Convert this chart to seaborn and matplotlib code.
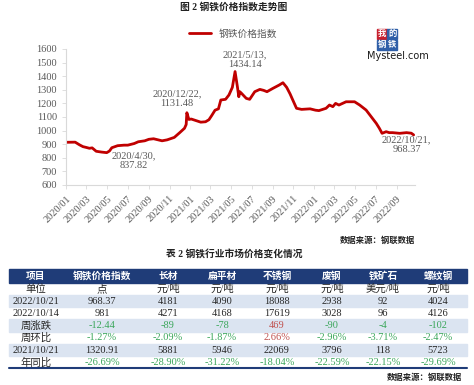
import pandas as pd
import matplotlib.pyplot as plt
import matplotlib.dates as mdates
from matplotlib.patches import Rectangle
import seaborn as sns

# line chart data
dates = ['2020-01-02', '2020-01-28', '2020-02-10', '2020-02-20', '2020-03-01', '2020-03-10',
         '2020-03-18', '2020-03-30', '2020-04-15', '2020-04-30', '2020-05-08', '2020-05-15',
         '2020-06-01', '2020-06-20', '2020-07-01', '2020-07-20', '2020-08-01', '2020-08-20',
         '2020-09-01', '2020-09-15', '2020-10-10', '2020-10-25', '2020-11-01', '2020-11-15',
         '2020-12-01', '2020-12-15', '2020-12-20', '2020-12-22', '2020-12-28', '2021-01-04',
         '2021-01-15', '2021-02-01', '2021-02-15', '2021-02-25', '2021-03-05', '2021-03-15',
         '2021-03-25', '2021-04-01', '2021-04-15', '2021-04-25', '2021-05-05', '2021-05-13',
         '2021-05-20', '2021-05-24', '2021-05-27', '2021-06-01', '2021-06-15', '2021-06-25',
         '2021-07-10', '2021-07-25', '2021-08-05', '2021-08-15', '2021-09-01', '2021-09-20',
         '2021-10-01', '2021-10-12', '2021-10-22', '2021-10-30', '2021-11-10', '2021-11-25',
         '2021-12-20', '2022-01-05', '2022-01-15', '2022-02-05', '2022-02-15', '2022-02-25',
         '2022-03-05', '2022-03-15', '2022-04-05', '2022-04-30', '2022-05-15', '2022-06-03',
         '2022-06-18', '2022-07-03', '2022-07-12', '2022-07-20', '2022-08-01', '2022-08-10',
         '2022-08-20', '2022-09-10', '2022-09-30', '2022-10-14', '2022-10-21']
index_vals = [914, 915, 895, 882, 876, 870, 873, 848, 842, 837.82, 850, 874,
              889, 893, 893, 905, 918, 925, 936, 940, 925, 932, 938, 950,
              985, 1017, 1045, 1131.48, 1082, 1085, 1076, 1062, 1065, 1080, 1110, 1150,
              1160, 1225, 1230, 1262, 1318, 1434.14, 1320, 1249, 1286, 1274, 1237, 1230,
              1286, 1303, 1296, 1286, 1310, 1335, 1352, 1318, 1270, 1225, 1164, 1156,
              1160, 1150, 1147, 1164, 1188, 1176, 1200, 1188, 1212, 1212, 1188, 1151,
              1102, 1053, 1017, 980, 992, 985, 985, 980, 985, 981, 968.37]

# annotated points: (date, value, label, offset in px)
notes = [('2020-04-30', 837.82, '2020/4/30,\n837.82', (27, -8)),
         ('2020-12-22', 1131.48, '2020/12/22,\n1131.48', (-10, 14)),
         ('2021-05-13', 1434.14, '2021/5/13,\n1434.14', (10, 12)),
         ('2022-10-21', 968.37, '2022/10/21,\n968.37', (-7, -10))]

# table data
header = ['项目', '钢铁价格指数', '长材', '扁平材', '不锈钢', '废钢', '铁矿石', '螺纹钢']
units = ['单位', '点', '元/吨', '元/吨', '元/吨', '元/吨', '美元/吨', '元/吨']
row_now = ['2022/10/21', '968.37', '4181', '4090', '18088', '2938', '92', '4024']
row_lastwk = ['2022/10/14', '981', '4271', '4168', '17619', '3028', '96', '4126']
wk_chg = ['周涨跌', '-12.44', '-89', '-78', '469', '-90', '-4', '-102']
wk_pct = ['周环比', '-1.27%', '-2.09%', '-1.87%', '2.66%', '-2.96%', '-3.71%', '-2.47%']
row_lastyr = ['2021/10/21', '1320.91', '5881', '5946', '22069', '3796', '118', '5723']
yr_pct = ['年同比', '-26.69%', '-28.90%', '-31.22%', '-18.04%', '-22.59%', '-22.15%', '-29.69%']
table_rows = [units, row_now, row_lastwk, wk_chg, wk_pct, row_lastyr, yr_pct]
colored_rows = [wk_chg, wk_pct, yr_pct]

sns.set_theme(style='white')
plt.rcParams['font.family'] = ['Liberation Serif', 'Noto Sans CJK SC']

W, H = 474, 385
fig = plt.figure(figsize=(W / 100, H / 100), dpi=100)

df = pd.DataFrame({'date': pd.to_datetime(dates), 'value': index_vals})

ax = fig.add_axes([66 / W, 1 - 185 / H, (415 - 66) / W, (185 - 49) / H])
ax.set_facecolor('none')
sns.lineplot(data=df, x='date', y='value', ax=ax, color='#c00000', linewidth=2.0,
             label='钢铁价格指数', legend=False)
ax.set_xlim(pd.Timestamp('2020-01-01'), pd.Timestamp('2022-10-25'))
ax.set_ylim(600, 1600)
ax.set_yticks(range(600, 1601, 100))
ax.xaxis.set_major_locator(mdates.MonthLocator(bymonth=[1, 3, 5, 7, 9, 11]))
ax.xaxis.set_major_formatter(mdates.DateFormatter('%Y/%m'))
ax.set_xlabel('')
ax.set_ylabel('')
for s in ['top', 'right']:
    ax.spines[s].set_visible(False)
for s in ['left', 'bottom']:
    ax.spines[s].set_color('#d9d9d9')
    ax.spines[s].set_linewidth(0.8)
ax.tick_params(axis='both', colors='#595959', labelsize=7.5, length=3, width=0.6,
               direction='out', left=True, bottom=True)
ax.tick_params(axis='both', color='#d9d9d9')
plt.setp(ax.get_xticklabels(), rotation=45, ha='right', rotation_mode='anchor')

for d, v, txt, off in notes:
    ax.annotate(txt, xy=(pd.Timestamp(d), v), xytext=off, textcoords='offset pixels',
                ha='center', va='center', fontsize=7.5, color='#595959',
                linespacing=1.15)

fig.legend(handles=ax.get_lines()[:1], labels=['钢铁价格指数'], loc='center',
           bbox_to_anchor=(233 / W, 1 - 34 / H), frameon=False, fontsize=7,
           handlelength=2.2, labelcolor='#595959')

# overlay axes in pixel coordinates for titles, logo and the table
ov = fig.add_axes([0, 0, 1, 1], zorder=-1)
ov.set_xlim(0, W)
ov.set_ylim(H, 0)
ov.axis('off')

ov.text(234, 7, '图 2 钢铁价格指数走势图', ha='center', va='center', fontsize=7,
        fontweight='bold', color='#222222')

# Mysteel logo
logo = [('我', '#c8202f', 377, 29), ('的', '#2f5fa8', 387.5, 29),
        ('钢', '#2f5fa8', 377, 39.5), ('铁', '#2f5fa8', 387.5, 39.5)]
for ch, c, lx, ly in logo:
    ov.add_patch(Rectangle((lx, ly), 10, 10, color=c))
    ov.text(lx + 5, ly + 5, ch, ha='center', va='center', fontsize=6, color='white',
            fontweight='bold')
ov.text(398, 56, 'Mysteel.com', ha='center', va='center', fontsize=7, color='#1a1a1a',
        family='DejaVu Sans')

ov.text(415, 241, '数据来源：钢联数据', ha='right', va='center', fontsize=6,
        fontweight='bold', color='#222222')
ov.text(234, 255, '表 2 钢铁行业市场价格变化情况', ha='center', va='center', fontsize=7,
        fontweight='bold', color='#222222')

# table
col_x = [36, 102, 168, 222, 277, 332, 383, 438]
tbl_left, tbl_right = 9, 467
head_top, head_h, row_h = 269.3, 13.4, 12.25
ov.add_patch(Rectangle((tbl_left, head_top), tbl_right - tbl_left, head_h, color='#1f3c78'))
for x, t in zip(col_x, header):
    ov.text(x, head_top + head_h / 2, t, ha='center', va='center', fontsize=7,
            fontweight='bold', color='white')

for i, row in enumerate(table_rows):
    y0 = head_top + head_h + i * row_h
    if i % 2 == 1:
        ov.add_patch(Rectangle((tbl_left, y0), tbl_right - tbl_left, row_h, color='#dbe4f1'))
    for j, (x, t) in enumerate(zip(col_x, row)):
        color = '#262626'
        if j > 0 and any(row is r for r in colored_rows):
            color = '#c0504d' if not t.startswith('-') else '#3aa65a'
        ov.text(x, y0 + row_h / 2, t, ha='center', va='center', fontsize=7.5, color=color)

bottom = head_top + head_h + len(table_rows) * row_h
ov.plot([tbl_left, tbl_right], [bottom, bottom], color='#1f3c78', linewidth=1.5)
ov.text(462, 378, '数据来源：钢联数据', ha='right', va='center', fontsize=6,
        fontweight='bold', color='#222222')

fig.savefig('out.png', dpi=100)
